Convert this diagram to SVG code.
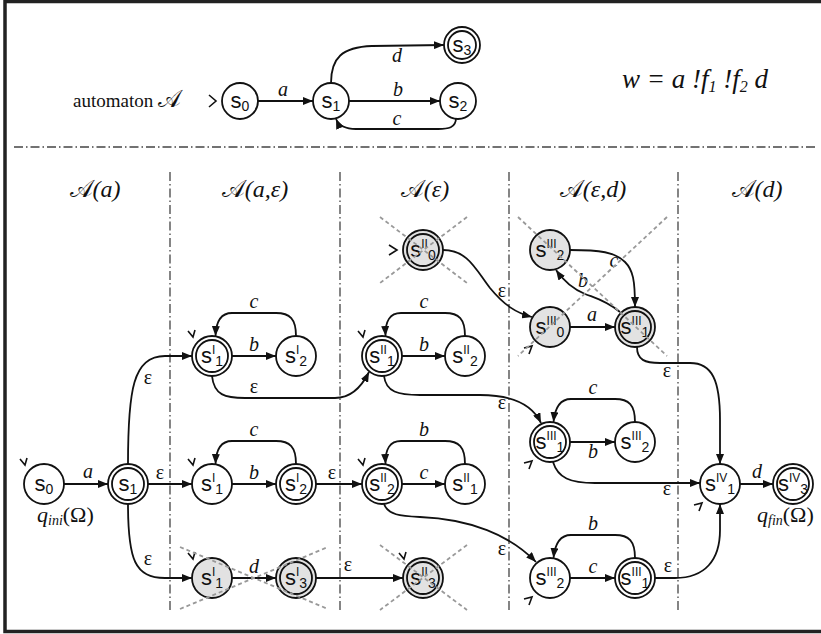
<svg xmlns="http://www.w3.org/2000/svg" width="821" height="634" viewBox="0 0 821 634">
<defs>
<marker id="ah" viewBox="0 0 10 8" refX="10" refY="4" markerWidth="10" markerHeight="8" markerUnits="userSpaceOnUse" orient="auto"><path d="M0,0 L10,4 L0,8 z" fill="#111"/></marker>
<style>
.n{fill:#fff;stroke:#111;stroke-width:1.8}
.g{fill:#e2e2e2}
.e{fill:none;stroke:#111;stroke-width:1.8;marker-end:url(#ah)}
.x{stroke:#999;stroke-width:1.8;stroke-dasharray:4 3}
.sep{stroke:#444;stroke-width:1.3;stroke-dasharray:9 3 1.5 3;fill:none}
.im{fill:none;stroke:#111;stroke-width:1.6}
.lbl{font-family:"Liberation Sans",Arial,sans-serif;font-size:22px;text-anchor:middle;fill:#111}
.sup{font-size:12px}
.sub{font-size:14px}
.el{font-family:"Liberation Serif","Times New Roman",serif;font-style:italic;font-size:20px;text-anchor:middle;fill:#111}
.eps{font-family:"Liberation Serif","Times New Roman",serif;font-size:20px;text-anchor:middle;fill:#111}
.hd{font-family:"Liberation Serif","Times New Roman",serif;font-style:italic;font-size:24px;text-anchor:middle;fill:#111}
.cal{font-family:"DejaVu Serif","DejaVu Sans",serif;font-style:normal}
.tx{font-family:"Liberation Serif","Times New Roman",serif;fill:#111}
</style>
</defs>
<rect x="5" y="1.5" width="830" height="630" fill="#fff" stroke="#222" stroke-width="3.5"/>

<g id="separators">
<line class="sep" x1="14" y1="147" x2="815" y2="147"/>
<line class="sep" x1="170" y1="172" x2="170" y2="612"/>
<line class="sep" x1="340" y1="172" x2="340" y2="612"/>
<line class="sep" x1="509" y1="172" x2="509" y2="612"/>
<line class="sep" x1="678" y1="172" x2="678" y2="612"/>
</g>

<text class="tx" x="73" y="107" font-size="19">automaton <tspan class="cal" font-size="24">𝒜</tspan></text>
<text class="tx" x="622" y="88" font-size="27" font-style="italic">w = a !f<tspan font-size="16" dy="4">1</tspan><tspan dy="-4"> !f</tspan><tspan font-size="16" dy="4">2</tspan><tspan dy="-4"> d</tspan></text>

<g id="headers">
<text class="hd" x="95" y="197"><tspan class="cal">𝒜</tspan>(a)</text>
<text class="hd" x="255" y="197"><tspan class="cal">𝒜</tspan>(a,ε)</text>
<text class="hd" x="425" y="197"><tspan class="cal">𝒜</tspan>(ε)</text>
<text class="hd" x="593" y="197"><tspan class="cal">𝒜</tspan>(ε,d)</text>
<text class="hd" x="757" y="197"><tspan class="cal">𝒜</tspan>(d)</text>
</g>

<g id="connectors">
<line class="e" x1="258" y1="101" x2="313" y2="101"/>
<line class="e" x1="349" y1="101" x2="440" y2="101"/>
<path class="e" d="M331,83 C331,58 342,47 372,46 L444,45"/>
<path class="e" d="M456,118 C456,128 448,129 438,129 L356,129 C346,129 339,126 336,119"/>
<line class="e" x1="64" y1="484" x2="108" y2="484"/>
<line class="e" x1="148" y1="484" x2="192" y2="484"/>
<line class="e" x1="232" y1="356" x2="276" y2="356"/>
<line class="e" x1="402" y1="356" x2="445" y2="356"/>
<line class="e" x1="232" y1="484" x2="276" y2="484"/>
<line class="e" x1="316" y1="484" x2="362" y2="484"/>
<line class="e" x1="402" y1="484" x2="445" y2="484"/>
<line class="e" x1="232" y1="578" x2="276" y2="578"/>
<line class="e" x1="316" y1="578" x2="403" y2="578"/>
<line class="e" x1="570" y1="327" x2="615" y2="327"/>
<line class="e" x1="570" y1="442" x2="615" y2="442"/>
<line class="e" x1="570" y1="578" x2="615" y2="578"/>
<line class="e" x1="740" y1="484" x2="773" y2="484"/>
<path class="e" d="M296,336 C296,319 290,313 276,313 L232,313 C221,313 216,321 215.5,336"/>
<path class="e" d="M465,336 C465,319 459,313 445,313 L401,313 C390,313 385,321 385.5,336"/>
<path class="e" d="M296,464 C296,447 290,441 276,441 L232,441 C221,441 216,449 215.5,464"/>
<path class="e" d="M465,464 C465,447 459,441 445,441 L401,441 C390,441 385,449 385.5,464"/>
<path class="e" d="M635,422 C635,405 629,399 615,399 L571,399 C560,399 555,407 553.5,422"/>
<path class="e" d="M635,558 C635,541 629,535 615,535 L571,535 C560,535 555,543 553.5,558"/>
<path class="e" d="M128,464 C128,390 133,356 165,356 L192,356"/>
<path class="e" d="M128,504 C128,560 135,578 165,578 L192,578"/>
<path class="e" d="M212,376 C214,395 225,398 245,398 L335,398 C352,398 362,386 369,372"/>
<path class="e" d="M384,376 C386,392 398,395 420,395 L480,395 C515,395 533,406 541,423"/>
<path class="e" d="M443,250 C468,250 476,270 490,288 C504,305 516,313 532,317"/>
<path class="e" d="M384,504 C388,515 400,516 420,517 C470,519 510,535 536,562"/>
<path class="e" d="M637,347 C637,360 645,363 660,363 L690,363 C712,363 720,380 720,420 L720,464"/>
<path class="e" d="M553,462 C558,478 570,483 595,483 L700,483"/>
<path class="e" d="M655,578 L675,578 C705,578 720,560 720,530 L720,504"/>
<path class="e" d="M570,250 C600,250 615,252 625,262 C633,270 635,280 635,307"/>
<path class="e" d="M620,312 C605,300 595,298 585,294 C573,289 563,280 556,270"/>
</g>

<g id="edge-labels">
<text class="el" x="283" y="96">a</text>
<text class="el" x="398" y="96">b</text>
<text class="el" x="397" y="62">d</text>
<text class="el" x="397" y="125">c</text>
<text class="el" x="88" y="478">a</text>
<text class="eps" x="160" y="479">ε</text>
<text class="eps" x="148" y="384">ε</text>
<text class="eps" x="148" y="565">ε</text>
<text class="el" x="254" y="351">b</text>
<text class="el" x="254" y="308">c</text>
<text class="eps" x="254" y="393">ε</text>
<text class="el" x="254" y="479">b</text>
<text class="el" x="254" y="436">c</text>
<text class="eps" x="332" y="479">ε</text>
<text class="el" x="254" y="573">d</text>
<text class="eps" x="348" y="571">ε</text>
<text class="el" x="424" y="351">b</text>
<text class="el" x="424" y="308">c</text>
<text class="el" x="424" y="479">c</text>
<text class="el" x="424" y="436">b</text>
<text class="eps" x="502" y="297">ε</text>
<text class="eps" x="502" y="409">ε</text>
<text class="eps" x="502" y="555">ε</text>
<text class="el" x="592" y="321">a</text>
<text class="el" x="614" y="267">c</text>
<text class="el" x="583" y="287">b</text>
<text class="eps" x="667" y="377">ε</text>
<text class="el" x="593" y="394">c</text>
<text class="el" x="593" y="458">b</text>
<text class="eps" x="667" y="495">ε</text>
<text class="el" x="593" y="530">b</text>
<text class="el" x="593" y="573">c</text>
<text class="eps" x="668" y="572">ε</text>
<text class="el" x="757" y="478">d</text>
</g>

<g id="top-s0"><polyline class="im" points="209,95 216,101 209,107" stroke-width="2.2"/><circle class="n" cx="240" cy="101" r="18"/><text class="lbl" x="240" y="108" font-size="20">s<tspan class="sub" dy="3">0</tspan></text></g>
<g id="top-s1"><circle class="n" cx="331" cy="101" r="18"/><text class="lbl" x="331" y="108" font-size="20">s<tspan class="sub" dy="3">1</tspan></text></g>
<g id="top-s2"><circle class="n" cx="458" cy="101" r="18"/><text class="lbl" x="458" y="108" font-size="20">s<tspan class="sub" dy="3">2</tspan></text></g>
<g id="top-s3"><circle class="n" cx="462" cy="45" r="18"/><circle class="n" cx="462" cy="45" r="14"/><text class="lbl" x="462" y="52" font-size="20">s<tspan class="sub" dy="3">3</tspan></text></g>

<g id="s0"><polyline class="im" points="20,459 25,465 27,458"/><circle class="n" cx="44" cy="484" r="20"/><text class="lbl" x="44" y="491">s<tspan class="sub" dy="3">0</tspan></text></g>
<g id="s1"><circle class="n" cx="128" cy="484" r="20"/><circle class="n" cx="128" cy="484" r="16"/><text class="lbl" x="128" y="491">s<tspan class="sub" dy="3">1</tspan></text></g>

<g id="aI-s1-top"><polyline class="im" points="188,331 193,337 195,330"/><circle class="n" cx="212" cy="356" r="20"/><circle class="n" cx="212" cy="356" r="16"/><text class="lbl" x="212" y="363">s<tspan class="sup" dy="-9">I</tspan><tspan class="sub" dy="12">1</tspan></text></g>
<g id="aI-s2-top"><circle class="n" cx="296" cy="356" r="20"/><text class="lbl" x="296" y="363">s<tspan class="sup" dy="-9">I</tspan><tspan class="sub" dy="12">2</tspan></text></g>
<g id="aI-s1-mid"><polyline class="im" points="188,459 193,465 195,458"/><circle class="n" cx="212" cy="484" r="20"/><text class="lbl" x="212" y="491">s<tspan class="sup" dy="-9">I</tspan><tspan class="sub" dy="12">1</tspan></text></g>
<g id="aI-s2-mid"><circle class="n" cx="296" cy="484" r="20"/><circle class="n" cx="296" cy="484" r="16"/><text class="lbl" x="296" y="491">s<tspan class="sup" dy="-9">I</tspan><tspan class="sub" dy="12">2</tspan></text></g>
<g id="aI-s1-bot"><polyline class="im" points="188,553 193,559 195,552"/><circle class="n g" cx="212" cy="578" r="20"/><text class="lbl" x="212" y="585">s<tspan class="sup" dy="-9">I</tspan><tspan class="sub" dy="12">1</tspan></text></g>
<g id="aI-s3-bot"><circle class="n g" cx="296" cy="578" r="20"/><circle class="n g" cx="296" cy="578" r="16"/><text class="lbl" x="296" y="585">s<tspan class="sup" dy="-9">I</tspan><tspan class="sub" dy="12">3</tspan></text></g>

<g id="aII-s0"><polyline class="im" points="389,245 397,250 389,255" stroke-width="2"/><circle class="n g" cx="423" cy="250" r="20"/><circle class="n g" cx="423" cy="250" r="16"/><text class="lbl" x="423" y="257">s<tspan class="sup" dy="-9">II</tspan><tspan class="sub" dy="12">0</tspan></text></g>
<g id="aII-s1-top"><polyline class="im" points="358,331 363,337 365,330"/><circle class="n" cx="382" cy="356" r="20"/><circle class="n" cx="382" cy="356" r="16"/><text class="lbl" x="382" y="363">s<tspan class="sup" dy="-9">II</tspan><tspan class="sub" dy="12">1</tspan></text></g>
<g id="aII-s2-top"><circle class="n" cx="465" cy="356" r="20"/><text class="lbl" x="465" y="363">s<tspan class="sup" dy="-9">II</tspan><tspan class="sub" dy="12">2</tspan></text></g>
<g id="aII-s2-mid"><polyline class="im" points="358,459 363,465 365,458"/><circle class="n" cx="382" cy="484" r="20"/><circle class="n" cx="382" cy="484" r="16"/><text class="lbl" x="382" y="491">s<tspan class="sup" dy="-9">II</tspan><tspan class="sub" dy="12">2</tspan></text></g>
<g id="aII-s1-mid"><circle class="n" cx="465" cy="484" r="20"/><text class="lbl" x="465" y="491">s<tspan class="sup" dy="-9">II</tspan><tspan class="sub" dy="12">1</tspan></text></g>
<g id="aII-s3"><polyline class="im" points="399,553 404,559 406,552"/><circle class="n g" cx="423" cy="578" r="20"/><circle class="n g" cx="423" cy="578" r="16"/><text class="lbl" x="423" y="585">s<tspan class="sup" dy="-9">II</tspan><tspan class="sub" dy="12">3</tspan></text></g>

<g id="aIII-s2-top"><circle class="n g" cx="550" cy="250" r="20"/><text class="lbl" x="550" y="257">s<tspan class="sup" dy="-9">III</tspan><tspan class="sub" dy="12">2</tspan></text></g>
<g id="aIII-s0"><polyline class="im" points="524,348 532,346 529,354"/><circle class="n g" cx="550" cy="327" r="20"/><text class="lbl" x="550" y="334">s<tspan class="sup" dy="-9">III</tspan><tspan class="sub" dy="12">0</tspan></text></g>
<g id="aIII-s1-top"><circle class="n g" cx="635" cy="327" r="20"/><circle class="n g" cx="635" cy="327" r="16"/><text class="lbl" x="635" y="334">s<tspan class="sup" dy="-9">III</tspan><tspan class="sub" dy="12">1</tspan></text></g>
<g id="aIII-s1-mid"><polyline class="im" points="524,463 532,461 529,469"/><circle class="n" cx="550" cy="442" r="20"/><circle class="n" cx="550" cy="442" r="16"/><text class="lbl" x="550" y="449">s<tspan class="sup" dy="-9">III</tspan><tspan class="sub" dy="12">1</tspan></text></g>
<g id="aIII-s2-mid"><circle class="n" cx="635" cy="442" r="20"/><text class="lbl" x="635" y="449">s<tspan class="sup" dy="-9">III</tspan><tspan class="sub" dy="12">2</tspan></text></g>
<g id="aIII-s2-bot"><polyline class="im" points="524,599 532,597 529,605"/><circle class="n" cx="550" cy="578" r="20"/><text class="lbl" x="550" y="585">s<tspan class="sup" dy="-9">III</tspan><tspan class="sub" dy="12">2</tspan></text></g>
<g id="aIII-s1-bot"><circle class="n" cx="635" cy="578" r="20"/><circle class="n" cx="635" cy="578" r="16"/><text class="lbl" x="635" y="585">s<tspan class="sup" dy="-9">III</tspan><tspan class="sub" dy="12">1</tspan></text></g>

<g id="aIV-s1"><polyline class="im" points="694,505 702,503 699,511"/><circle class="n" cx="720" cy="484" r="20"/><text class="lbl" x="720" y="491">s<tspan class="sup" dy="-9">IV</tspan><tspan class="sub" dy="12">1</tspan></text></g>
<g id="aIV-s3"><circle class="n" cx="793" cy="484" r="20"/><circle class="n" cx="793" cy="484" r="16"/><text class="lbl" x="793" y="491">s<tspan class="sup" dy="-9">IV</tspan><tspan class="sub" dy="12">3</tspan></text></g>

<text class="tx" x="37" y="522" font-size="22"><tspan font-style="italic">q</tspan><tspan font-style="italic" font-size="14" dy="3">ini</tspan><tspan dy="-3">(Ω)</tspan></text>
<text class="tx" x="757" y="522" font-size="22"><tspan font-style="italic">q</tspan><tspan font-style="italic" font-size="14" dy="3">fin</tspan><tspan dy="-3">(Ω)</tspan></text>

<g id="crosses">
<line class="x" x1="380" y1="217" x2="467" y2="283"/><line class="x" x1="467" y1="217" x2="380" y2="283"/>
<line class="x" x1="180" y1="547" x2="328" y2="609"/><line class="x" x1="180" y1="609" x2="328" y2="547"/>
<line class="x" x1="380" y1="545" x2="467" y2="610"/><line class="x" x1="467" y1="545" x2="380" y2="610"/>
<line class="x" x1="518" y1="217" x2="667" y2="356"/><line class="x" x1="667" y1="217" x2="518" y2="356"/>
</g>
</svg>
